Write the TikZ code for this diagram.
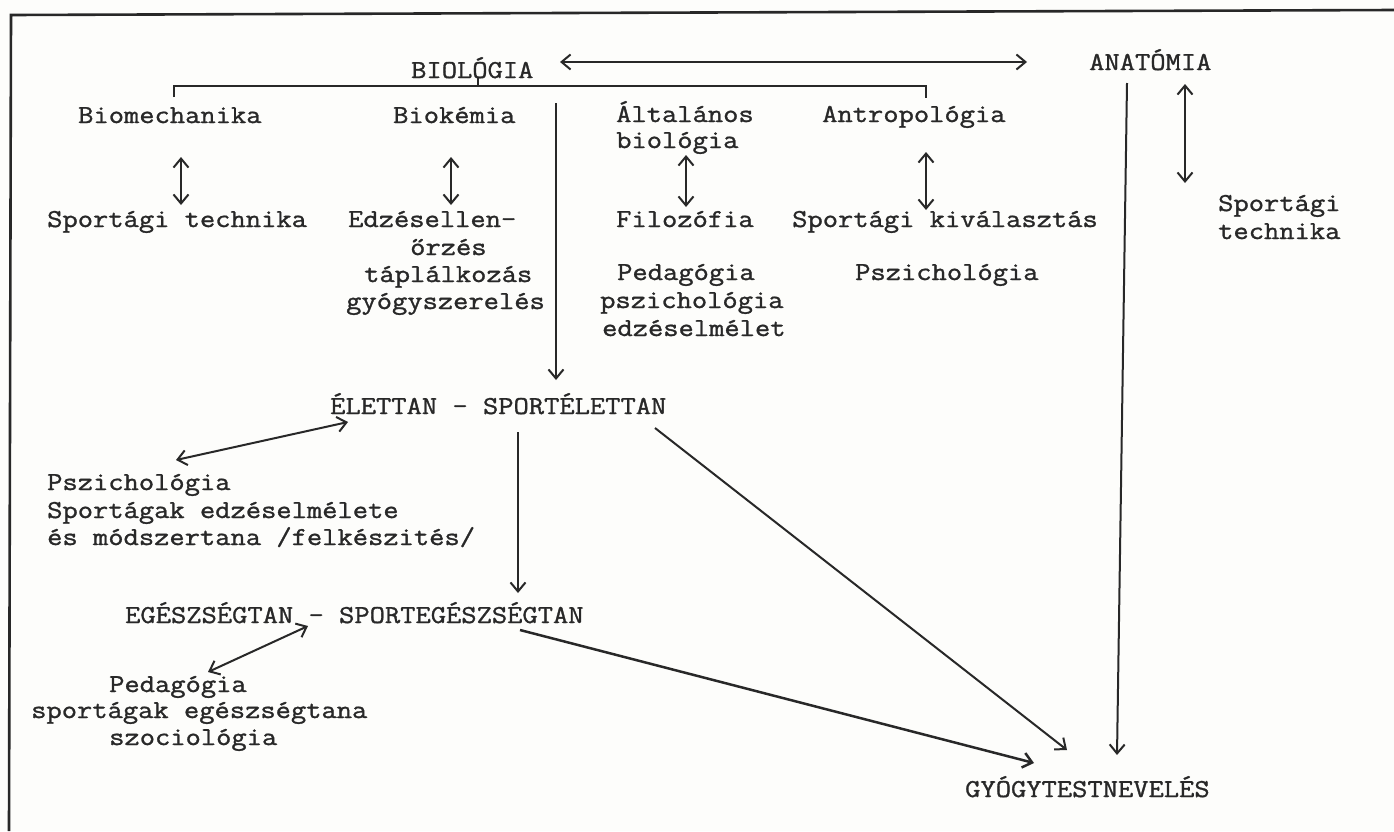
\documentclass[tikz,border=0pt]{standalone}
\usepackage{fontspec}
\setmonofont[FakeStretch=1.15,FakeBold=1.2]{Latin Modern Mono}
\usetikzlibrary{arrows.meta}
\definecolor{ink}{RGB}{40,40,40}
\definecolor{paper}{RGB}{253,253,251}
\begin{document}
\begin{tikzpicture}[x=1pt,y=-1pt,
  txt/.style={inner sep=0pt, anchor=base west, font=\ttfamily\fontsize{25.8}{28}\selectfont, text=ink},
  ln/.style={draw=ink, line width=2pt},
  tip/.tip={Straight Barb[length=9pt,width=15pt]},
  arr/.style={ln, -tip},
  dbl/.style={ln, tip-tip}]
\fill[paper] (0,0) rectangle (1394,831);
\useasboundingbox (0,0) rectangle (1394,831);
% frame
\draw[ink, line width=2.6pt] (1394,10) -- (11,15) -- (9,831);
% texts
\node[txt] (bio) at (411,78) {BIOLÓGIA};
\node[txt] (ana) at (1089,70) {ANATÓMIA};
\node[txt] (bmech) at (78,123) {Biomechanika};
\node[txt] (bkem) at (393,123) {Biokémia};
\node[txt] (alt1) at (616,122) {Általános};
\node[txt] (alt2) at (616,148) {biológia};
\node[txt] (antr) at (822,122) {Antropológia};
\node[txt] (sptech) at (47,227) {Sportági technika};
\node[txt] (edz1) at (348,227) {Edzésellen-};
\node[txt] (edz2) at (410,255) {őrzés};
\node[txt] (edz3) at (364,282) {táplálkozás};
\node[txt] (edz4) at (346,309) {gyógyszerelés};
\node[txt] (filo) at (616,227) {Filozófia};
\node[txt] (kival) at (792,227) {Sportági kiválasztás};
\node[txt] (spa) at (1218,211) {Sportági};
\node[txt] (spb) at (1218,239) {technika};
\node[txt] (ped1) at (617,280) {Pedagógia};
\node[txt] (ped2) at (600,308) {pszichológia};
\node[txt] (ped3) at (602,336) {edzéselmélet};
\node[txt] (psz) at (855,280) {Pszichológia};
\node[txt] (elet) at (330,414) {ÉLETTAN - SPORTÉLETTAN};
\node[txt] (pla) at (47,490) {Pszichológia};
\node[txt] (plb) at (47,518) {Sportágak edzéselmélete};
\node[txt] (plc) at (47,545) {és módszertana /felkészités/};
\node[txt] (eg) at (125,623) {EGÉSZSÉGTAN - SPORTEGÉSZSÉGTAN};
\node[txt] (pea) at (109,692) {Pedagógia};
\node[txt] (peb) at (31,718) {sportágak egészségtana};
\node[txt] (pec) at (109,745) {szociológia};
\node[txt] (gy) at (965,797) {GYÓGYTESTNEVELÉS};
% connector end points
\coordinate (bioR) at (560,62);  \coordinate (anaL) at (1027,62);
\coordinate (brL) at (174,97); \coordinate (brLc) at (174,86);
\coordinate (brR) at (926,98); \coordinate (brRc) at (926,86);
\coordinate (brT) at (478,78); \coordinate (brTc) at (478,86);
\coordinate (vtop) at (556,103); \coordinate (eletT) at (556,380);
\coordinate (bmB) at (181,157); \coordinate (stT) at (181,205);
\coordinate (bkB) at (451,157); \coordinate (edT) at (451,205);
\coordinate (alB) at (686,155); \coordinate (fiT) at (686,207);
\coordinate (anB) at (926,152); \coordinate (kvT) at (926,210);
\coordinate (naB) at (1185,84); \coordinate (spT) at (1185,183);
\coordinate (naV) at (1127,83); \coordinate (gyV) at (1117,755);
\coordinate (elL) at (348,422); \coordinate (plT) at (176,460);
\coordinate (elB) at (518,432); \coordinate (egT) at (518,593);
\coordinate (elR) at (655,428); \coordinate (gyA) at (1067,750);
\coordinate (egL) at (308,626); \coordinate (peT) at (208,672);
\coordinate (egR) at (520,630); \coordinate (gyB) at (1034,763);
% connectors
\draw[dbl] (bioR) -- (anaL);
\draw[ln] (brL) -- (brLc) -- (brRc) -- (brR);
\draw[ln] (brT) -- (brTc);
\draw[arr] (vtop) -- (eletT);
\draw[dbl] (bmB) -- (stT);
\draw[dbl] (bkB) -- (edT);
\draw[dbl] (alB) -- (fiT);
\draw[dbl] (anB) -- (kvT);
\draw[dbl] (naB) -- (spT);
\draw[arr] (naV) -- (gyV);
\draw[dbl] (elL) -- (plT);
\draw[arr] (elB) -- (egT);
\draw[arr] (elR) -- (gyA);
\draw[dbl] (egL) -- (peT);
\draw[arr, line width=2.5pt] (egR) -- (gyB);
\end{tikzpicture}
\end{document}
